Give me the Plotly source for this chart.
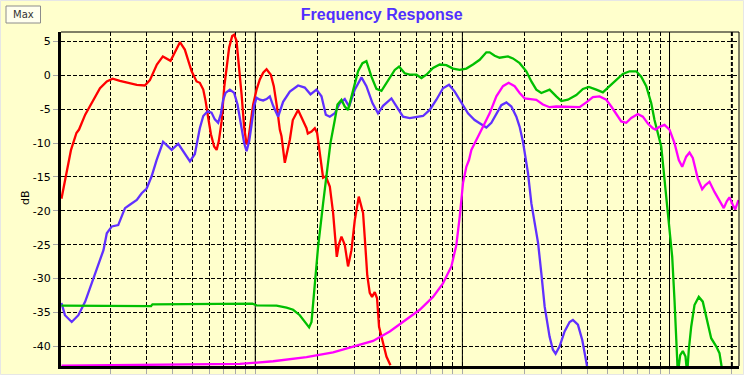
import math
import plotly.graph_objects as go

# ---------------- data (frequency in Hz, level in dB) ----------------
red_f = [11.6, 12.3, 12.9, 13.7, 14.1, 15.1, 15.9, 17.8, 19.2, 20.5, 22.2, 24.8, 26.8, 29.3, 31.0,
         33.5, 35.8, 39.0, 43.3, 45.7, 49.3, 52.1, 54.0, 56.1, 57.6, 59.3, 61.1, 63.3, 65.1, 66.7,
         68.8, 70.8, 72.7, 74.8, 77.4, 79.1, 81.2, 83.3, 85.9, 88.4, 90.8, 92.4, 95.2, 97.7, 101.5,
         105.2, 109.2, 113.4, 118.9, 122.9, 127.1, 131.4, 133.9, 138.9, 146.9, 151.8, 161.0, 169.7,
         176.8, 179.4, 186.9, 193.9, 198.9, 205.0, 212.6, 219.1, 229.1, 237.6, 242.1, 247.5, 253.1,
         260.8, 270.5, 280.6, 291.4, 302.3, 316.1, 331.5, 339.7, 347.3, 357.1, 366.4, 377.5, 387.3,
         396.0, 414.0, 429.9, 449.4]
red_db = [-18.2, -14.0, -11.0, -8.5, -8.0, -5.8, -4.6, -1.9, -0.9, -0.5, -0.8, -1.1, -1.4, -1.5, -0.7,
          1.6, 2.8, 2.15, 4.9, 3.8, 0.6, -0.9, -1.1, -2.1, -3.8, -6.3, -8.7, -10.5, -11.0, -9.7,
          -6.8, -1.8, 1.1, 4.1, 5.8, 6.0, 5.1, 1.6, -2.8, -7.7, -10.2, -9.7, -6.8, -4.3, -2.1,
          -0.6, 0.4, 0.9, 0.1, -1.6, -4.5, -8.0, -9.0, -12.9, -9.5, -6.6, -5.1, -6.6,
          -7.8, -8.6, -8.3, -7.8, -8.5, -11.5, -15.1, -14.9, -16.4, -20.3, -23.0, -26.8, -25.0,
          -23.8, -25.0, -28.2, -25.8, -21.4, -17.9, -20.3, -25.0, -29.5, -32.1, -32.7, -32.0, -32.9,
          -37.1, -39.5, -41.5, -42.8]

blue_f = [11.6, 12.06, 13.0, 14.0, 15.1, 16.2, 17.2, 18.5, 19.2, 20.3, 21.8, 23.5, 24.8, 26.8, 28.3,
          29.9, 31.6, 33.4, 35.9, 37.3, 39.5, 42.5, 44.9, 48.4, 51.1, 52.1, 54.0, 56.1, 58.9, 61.5,
          63.8, 66.2, 68.2, 70.0, 71.9, 75.4, 79.1, 82.1, 85.2, 88.4, 90.8, 93.5, 96.0, 98.8, 101.5,
          105.2, 109.2, 113.4, 117.6, 122.0, 129.0, 136.3, 146.9, 161.0, 173.4, 184.8, 197.5, 208.8,
          219.1, 229.1, 242.1, 255.9, 270.5, 283.8, 302.3, 325.7, 344.1, 368.0, 391.5, 414.0, 454.4,
          480.3, 517.0, 556.9, 599.9, 645.6, 695.5, 749.0, 806.0, 861.9, 918.1, 989.0, 1064, 1146,
          1235, 1305, 1380, 1459, 1542, 1631, 1724, 1822, 1890, 1961, 2073, 2153, 2275, 2321, 2405,
          2495, 2637, 2736, 2819, 2948, 3115, 3294, 3416, 3612, 3793, 3965, 4030]
blue_db = [-33.6, -35.4, -36.4, -35.4, -33.4, -30.7, -28.5, -25.8, -23.3, -22.3, -22.1, -19.6, -19.1, -18.4, -17.4,
           -16.7, -14.9, -12.5, -9.8, -10.3, -11.0, -10.1, -11.2, -12.7, -11.6, -10.2, -7.8, -6.0, -5.3, -5.5,
           -6.5, -7.0, -5.7, -3.6, -2.6, -2.1, -2.6, -4.3, -7.3, -10.0, -11.2, -9.7, -7.3, -4.5, -3.3,
           -3.6, -3.7, -3.5, -3.1, -4.5, -6.1, -3.9, -2.4, -1.5, -1.8, -2.8, -2.1, -3.1,
           -5.8, -6.1, -5.6, -4.1, -3.5, -4.6, -2.1, -0.3, -1.6, -4.1, -5.6, -4.5, -3.4,
           -4.5, -6.1, -6.3, -6.1, -6.0, -5.1, -3.6, -1.9, -1.4, -2.4, -4.1, -5.6, -6.6,
           -7.3, -7.7, -7.0, -5.6, -4.4, -4.0, -4.6, -6.1, -7.6, -9.8, -14.4, -18.9, -23.3, -24.8, -29.2,
           -34.1, -38.6, -40.5, -41.1, -40.0, -37.8, -36.4, -36.1, -36.8, -39.1, -42.5, -43.5]

green_f = [11.6, 31.4, 31.9, 97.0, 101.5, 126.7, 141.6, 152.4, 164.1, 173.4, 182.0, 186.9, 191.8, 196.0,
           201.1, 212.6, 222.2, 230.7, 242.1, 249.5, 260.8, 270.5, 280.6, 296.7, 313.6, 329.3, 344.1,
           363.9, 384.7, 406.7, 437.6, 471.5, 494.6, 526.8, 556.9, 599.9, 634.2, 670.5, 721.5, 777.3,
           837.1, 900.8, 970.5, 1045, 1125, 1212, 1305, 1354, 1432, 1513, 1660, 1754, 1890, 2036, 2153,
           2275, 2405, 2637, 2841, 3004, 3232, 3548, 3819, 4080, 4430, 4769, 5135, 5534, 5952, 6412,
           6909, 7303, 7720, 8160, 8464, 9120, 9460, 9813, 10191, 10304, 10571, 10773, 10965, 11262,
           11593, 11946, 12173, 12391, 12726, 13200, 13844, 14473, 15031, 15892, 16800, 17426, 17957]
green_db = [-34.0, -34.05, -33.8, -33.7, -33.95, -34.0, -34.3, -34.6, -35.4, -36.4, -37.2, -36.4, -32.7, -29.2,
            -25.3, -18.9, -14.4, -10.0, -6.6, -4.3, -3.6, -4.6, -5.1, -2.1, 0.6, 1.8, 2.1,
            -0.2, -2.0, -2.3, -0.7, 0.8, 1.3, 0.3, 0.1, 0.1, -0.4, 0.1, 1.1, 1.6,
            1.5, 1.0, 0.8, 1.0, 1.6, 2.3, 3.4, 3.4, 2.9, 2.6, 2.8, 2.5, 1.8, 0.6, -0.9,
            -2.1, -2.6, -2.1, -3.1, -3.8, -3.6, -2.9, -2.0, -1.7, -2.1, -2.5, -1.6, -0.7, 0.2, 0.6,
            0.6, -0.2, -1.6, -4.1, -6.6, -10.5, -15.4, -19.4, -24.3, -26.8, -33.2, -39.1, -44.0, -41.3,
            -40.7, -41.5, -44.0, -40.5, -37.1, -33.9, -32.7, -33.4, -35.6, -38.8, -40.0, -41.0, -43.5]

magenta_f = [11.6, 22.2, 54.0, 84.3, 122.0, 176.8, 237.6, 296.7, 370.5, 446.0, 536.9, 622.3, 721.5, 806.0,
             884.9, 935.6, 970.5, 1007, 1045, 1076, 1105, 1168, 1257, 1354, 1459, 1570, 1672, 1788, 1890,
             1998, 2112, 2275, 2448, 2637, 2841, 3174, 3416, 3680, 3965, 4266, 4596, 4951, 5234, 5534,
             5848, 6183, 6536, 7033, 7434, 7858, 8306, 8560, 8948, 9460, 10000, 10571, 11089, 11516,
             12037, 12490, 12954, 13692, 14377, 14916, 15596, 16486, 17426, 18279, 18899, 19475, 20203,
             20746, 21524]
magenta_db = [-42.85, -42.8, -42.7, -42.6, -42.2, -41.6, -40.9, -40.1, -39.2, -37.8, -36.0, -34.6, -32.7, -30.7,
              -28.2, -25.0, -20.9, -15.9, -13.5, -12.5, -11.0, -9.6, -7.6, -5.6, -3.1, -1.6, -1.1, -1.6, -2.6,
              -3.4, -3.5, -3.6, -4.3, -4.7, -4.6, -4.6, -4.7, -4.7, -4.0, -3.2, -3.1, -3.6, -4.6, -5.8,
              -6.8, -7.0, -6.3, -5.7, -6.1, -7.1, -7.8, -8.0, -7.6, -7.3, -8.0, -10.0, -12.5, -13.5,
              -12.0, -11.4, -12.2, -15.2, -16.8, -16.2, -15.7, -17.2, -18.6, -19.6, -18.6, -18.0, -19.1,
              -19.8, -18.4]

y_ticks = [5, 0, -5, -10, -15, -20, -25, -30, -35, -40]
x_grid = [m * 10 ** e for e in (1, 2, 3) for m in range(2, 10)] + [100, 1000, 10000, 20000]
decades = [100, 1000, 10000]

BG = "#FFFFCC"
series = [
    (red_f, red_db, "#FF0000"),
    (blue_f, blue_db, "#6030FF"),
    (green_f, green_db, "#00BF00"),
    (magenta_f, magenta_db, "#FF00FF"),
]

fig = go.Figure()
for fx, fy, col in series:
    fig.add_trace(go.Scatter(x=fx, y=fy, mode="lines", line=dict(color=col, width=2.3),
                             showlegend=False, hoverinfo="skip"))

# plot area geometry (pixels) for paper-coordinate helpers
L, R, T, B = 61, 5, 32, 9
W, H = 744, 375
PW, PH = W - L - R, H - T - B


def px(xp):
    return (xp - L) / PW


def py(yp):
    return (H - B - yp) / PH


shapes = []
for d in decades:
    shapes.append(dict(type="line", xref="x", yref="paper", x0=d, x1=d, y0=0, y1=1,
                       line=dict(color="black", width=1), layer="between"))
shapes.append(dict(type="line", xref="x", yref="paper", x0=20000, x1=20000, y0=0, y1=1,
                   line=dict(color="black", width=2, dash="4px,2px"), layer="between"))
# top & right frame
shapes.append(dict(type="line", xref="paper", yref="paper", x0=0, x1=1, y0=1, y1=1,
                   line=dict(color="black", width=1)))
shapes.append(dict(type="line", xref="paper", yref="paper", x0=1, x1=1, y0=0, y1=1,
                   line=dict(color="black", width=1)))
# Max button
shapes.append(dict(type="rect", xref="paper", yref="paper", x0=px(6), x1=px(40.5),
                   y0=py(23), y1=py(6), line=dict(color="#8C8C8C", width=1), fillcolor="#FFFFEE"))
# light outer frame
shapes.append(dict(type="rect", xref="paper", yref="paper", x0=px(0.5), x1=px(743.5),
                   y0=py(374.5), y1=py(0.5), line=dict(color="#E6E6E6", width=1)))

fig.update_layout(
    width=W, height=H,
    margin=dict(l=L, r=R, t=T, b=B, pad=0, autoexpand=False),
    paper_bgcolor=BG, plot_bgcolor=BG,
    title=dict(text="<b>Frequency Response</b>", x=381.7 / W, xanchor="center",
               y=1 - 14 / H, yanchor="middle",
               font=dict(family="Liberation Sans, Arial, sans-serif", size=16, color="#5030FF")),
    xaxis=dict(type="log", range=[math.log10(11.54), math.log10(21650)],
               tickvals=x_grid, showticklabels=False, ticks="outside", ticklen=5,
               tickcolor="#A8A8A8", tickwidth=1, automargin=False,
               showgrid=True, gridcolor="black", gridwidth=1, griddash="4px,2px",
               showline=True, linecolor="black", linewidth=3, zeroline=False, fixedrange=True),
    yaxis=dict(range=[-42.9, 6.4], tickvals=y_ticks, ticktext=[str(v) for v in y_ticks],
               ticks="outside", ticklen=5, tickcolor="#A8A8A8", tickwidth=1, automargin=False,
               tickfont=dict(family="DejaVu Sans", size=11, color="black"),
               showgrid=True, gridcolor="black", gridwidth=1, griddash="4px,2px",
               showline=True, linecolor="black", linewidth=3, zeroline=False, fixedrange=True),
    shapes=shapes,
    annotations=[
        dict(text="Max", xref="paper", yref="paper", x=px(23.3), y=py(14.8), showarrow=False,
             xanchor="center", yanchor="middle",
             font=dict(family="DejaVu Sans", size=10, color="#333333")),
        dict(text="dB", xref="paper", yref="paper", x=px(25.5), y=py(197.5), showarrow=False,
             textangle=-90, xanchor="center", yanchor="middle",
             font=dict(family="DejaVu Sans", size=11, color="black")),
    ],
)

fig.write_html("out.html", config={"displayModeBar": False},
               post_script="document.body.style.margin='0px';document.body.style.overflow='hidden';")
